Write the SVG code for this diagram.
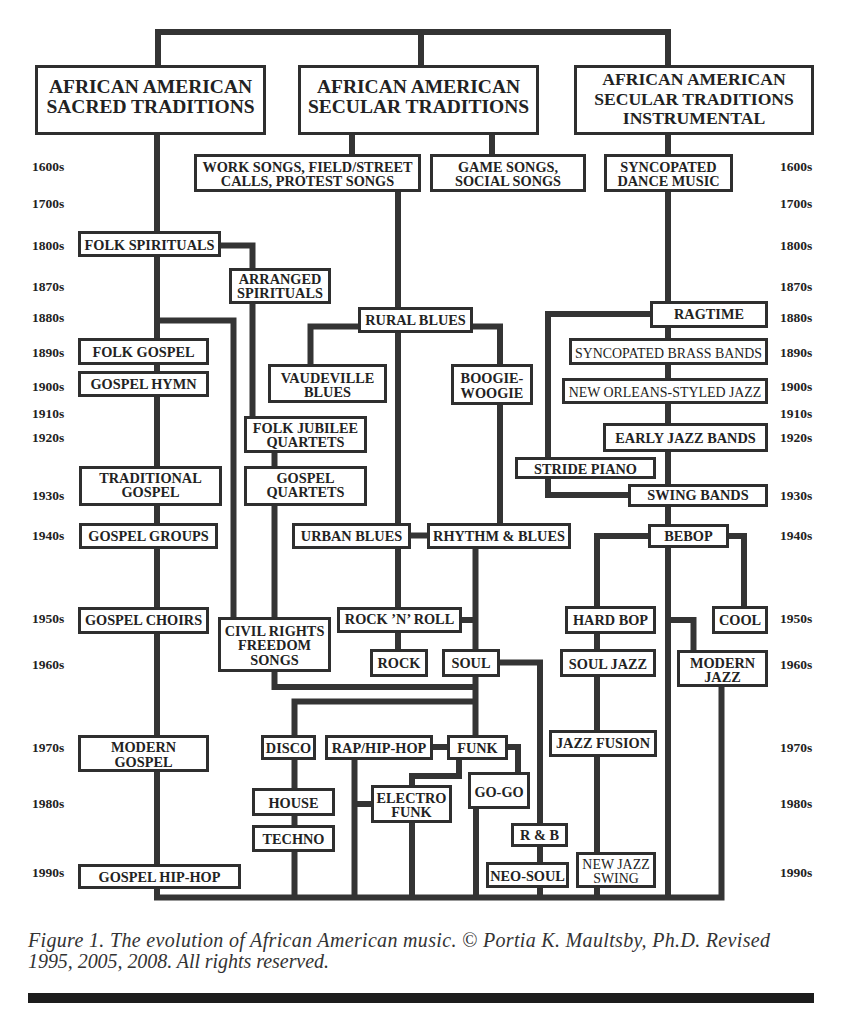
<svg xmlns="http://www.w3.org/2000/svg" width="842" height="1023" viewBox="0 0 842 1023">
<style>
.bg{fill:#ffffff}
.c{fill:none;stroke:#343434;stroke-width:6;stroke-linejoin:miter;stroke-linecap:butt}
.b{fill:#ffffff;stroke:#2f2f2f;stroke-width:3}
.t{font-family:"Liberation Serif","Times New Roman",serif;font-weight:bold;font-size:14.3px;fill:#222;text-anchor:middle}
.tr{font-family:"Liberation Serif","Times New Roman",serif;font-weight:normal;font-size:13.9px;fill:#222;text-anchor:middle}
.h{font-family:"Liberation Serif","Times New Roman",serif;font-weight:bold;font-size:19.5px;fill:#222;text-anchor:middle}
.h3{font-family:"Liberation Serif","Times New Roman",serif;font-weight:bold;font-size:17.6px;fill:#222;text-anchor:middle}
.y{font-family:"Liberation Serif","Times New Roman",serif;font-weight:bold;font-size:13.5px;fill:#222}
.cap{font-family:"Liberation Serif","Times New Roman",serif;font-style:italic;font-size:20px;fill:#333}
</style>
<rect class="bg" x="0" y="0" width="842" height="1023"/>
<g id="connectors">
<path class="c" d="M158 65 V32 H668 V65 M421 32 V65"/>
<path class="c" d="M352 135 V154 M492 135 V154 M668 135 V154"/>
<path class="c" d="M157 135 V897.5 H721.5 V687"/>
<path class="c" d="M221 245.5 H252.5 V268 M252.5 304 V416"/>
<path class="c" d="M157 320.5 H233.5 V617"/>
<path class="c" d="M274.5 453 V466 M274.5 506 V617"/>
<path class="c" d="M274.5 672 V687 H475.5"/>
<path class="c" d="M475.5 701.5 H294.5 V897.5"/>
<path class="c" d="M398 192 V649"/>
<path class="c" d="M358 326.5 H310.5 V364"/>
<path class="c" d="M473 326.5 H500 V364 M500 405 V523"/>
<path class="c" d="M411 535.5 H427"/>
<path class="c" d="M475.5 549 V735"/>
<path class="c" d="M462 620 H475.5"/>
<path class="c" d="M500 662.5 H540 V823 M540 847 V862 M540 888 V897.5"/>
<path class="c" d="M433 747 H447"/>
<path class="c" d="M508 747 H518 V772"/>
<path class="c" d="M459 760 V776 H412 V785"/>
<path class="c" d="M354.5 760 V897.5 M354.5 804 H371"/>
<path class="c" d="M412 823 V897.5"/>
<path class="c" d="M476 809 V897.5"/>
<path class="c" d="M668 192 V897.5"/>
<path class="c" d="M650 314 H548 V457 M548 479 V495 H628"/>
<path class="c" d="M648 536 H597 V606 M597 634 V649 M597 677 V730 M597 757 V852 M597 888 V897.5"/>
<path class="c" d="M729 536 H744 V606"/>
<path class="c" d="M668 620 H693.5 V650"/>
</g>
<g id="years">
<text class="y" x="32" y="170.5">1600s</text>
<text class="y" x="32" y="208">1700s</text>
<text class="y" x="32" y="250">1800s</text>
<text class="y" x="32" y="290.5">1870s</text>
<text class="y" x="32" y="321.5">1880s</text>
<text class="y" x="32" y="356.5">1890s</text>
<text class="y" x="32" y="390.5">1900s</text>
<text class="y" x="32" y="417.5">1910s</text>
<text class="y" x="32" y="441.5">1920s</text>
<text class="y" x="32" y="500">1930s</text>
<text class="y" x="32" y="540">1940s</text>
<text class="y" x="32" y="622.5">1950s</text>
<text class="y" x="32" y="669">1960s</text>
<text class="y" x="32" y="751.5">1970s</text>
<text class="y" x="32" y="807.5">1980s</text>
<text class="y" x="32" y="876.5">1990s</text>
<text class="y" x="780" y="170.5">1600s</text>
<text class="y" x="780" y="208">1700s</text>
<text class="y" x="780" y="250">1800s</text>
<text class="y" x="780" y="290.5">1870s</text>
<text class="y" x="780" y="321.5">1880s</text>
<text class="y" x="780" y="356.5">1890s</text>
<text class="y" x="780" y="390.5">1900s</text>
<text class="y" x="780" y="417.5">1910s</text>
<text class="y" x="780" y="441.5">1920s</text>
<text class="y" x="780" y="500">1930s</text>
<text class="y" x="780" y="540">1940s</text>
<text class="y" x="780" y="622.5">1950s</text>
<text class="y" x="780" y="669">1960s</text>
<text class="y" x="780" y="751.5">1970s</text>
<text class="y" x="780" y="807.5">1980s</text>
<text class="y" x="780" y="876.5">1990s</text>
</g>
<g id="sacred-header"><rect class="b" x="36.5" y="66.5" width="228" height="67"/><text class="h" x="150.5" y="93">AFRICAN AMERICAN</text><text class="h" x="150.5" y="113">SACRED TRADITIONS</text></g>
<g id="secular-header"><rect class="b" x="299.5" y="66.5" width="238" height="67"/><text class="h" x="418.5" y="93">AFRICAN AMERICAN</text><text class="h" x="418.5" y="113">SECULAR TRADITIONS</text></g>
<g id="instrumental-header"><rect class="b" x="575.5" y="66.5" width="237" height="67"/><text class="h3" x="694" y="85">AFRICAN AMERICAN</text><text class="h3" x="694" y="104.5">SECULAR TRADITIONS</text><text class="h3" x="694" y="124">INSTRUMENTAL</text></g>
<g id="work-songs"><rect class="b" x="195.5" y="155.5" width="224" height="35"/><text class="t" x="307.5" y="172">WORK SONGS, FIELD/STREET</text><text class="t" x="307.5" y="186">CALLS, PROTEST SONGS</text></g>
<g id="game-songs"><rect class="b" x="431.5" y="155.5" width="153" height="35"/><text class="t" x="508" y="172">GAME SONGS,</text><text class="t" x="508" y="186">SOCIAL SONGS</text></g>
<g id="syncopated-dance"><rect class="b" x="605.5" y="155.5" width="126" height="35"/><text class="t" x="668.5" y="172">SYNCOPATED</text><text class="t" x="668.5" y="186">DANCE MUSIC</text></g>
<g id="folk-spirituals"><rect class="b" x="79.5" y="232.5" width="140" height="23"/><text class="t" x="149.5" y="250">FOLK SPIRITUALS</text></g>
<g id="arranged-spirituals"><rect class="b" x="230.5" y="269.5" width="99" height="33"/><text class="t" x="280" y="284">ARRANGED</text><text class="t" x="280" y="298">SPIRITUALS</text></g>
<g id="folk-gospel"><rect class="b" x="79.5" y="339.5" width="128" height="24"/><text class="t" x="143.5" y="357">FOLK GOSPEL</text></g>
<g id="gospel-hymn"><rect class="b" x="79.5" y="372.5" width="128" height="23"/><text class="t" x="143.5" y="389">GOSPEL HYMN</text></g>
<g id="traditional-gospel"><rect class="b" x="80.5" y="467.5" width="140" height="37"/><text class="t" x="150.5" y="483">TRADITIONAL</text><text class="t" x="150.5" y="497">GOSPEL</text></g>
<g id="folk-jubilee-quartets"><rect class="b" x="245.5" y="417.5" width="120" height="34"/><text class="t" x="305.5" y="433">FOLK JUBILEE</text><text class="t" x="305.5" y="447">QUARTETS</text></g>
<g id="gospel-quartets"><rect class="b" x="245.5" y="467.5" width="120" height="37"/><text class="t" x="305.5" y="483">GOSPEL</text><text class="t" x="305.5" y="497">QUARTETS</text></g>
<g id="gospel-groups"><rect class="b" x="80.5" y="524.5" width="136" height="23"/><text class="t" x="148.5" y="541">GOSPEL GROUPS</text></g>
<g id="gospel-choirs"><rect class="b" x="79.5" y="608.5" width="128" height="24"/><text class="t" x="143.5" y="625">GOSPEL CHOIRS</text></g>
<g id="civil-rights"><rect class="b" x="219.5" y="618.5" width="110" height="52"/><text class="t" x="274.5" y="636">CIVIL RIGHTS</text><text class="t" x="274.5" y="650">FREEDOM</text><text class="t" x="274.5" y="665">SONGS</text></g>
<g id="modern-gospel"><rect class="b" x="79.5" y="736.5" width="128" height="34"/><text class="t" x="143.5" y="752">MODERN</text><text class="t" x="143.5" y="766.5">GOSPEL</text></g>
<g id="gospel-hip-hop"><rect class="b" x="79.5" y="865.5" width="160" height="22"/><text class="t" x="159.5" y="881.5">GOSPEL HIP-HOP</text></g>
<g id="rural-blues"><rect class="b" x="359.5" y="308.5" width="112" height="23"/><text class="t" x="415.5" y="325">RURAL BLUES</text></g>
<g id="vaudeville-blues"><rect class="b" x="269.5" y="365.5" width="116" height="36"/><text class="t" x="327.5" y="383">VAUDEVILLE</text><text class="t" x="327.5" y="397">BLUES</text></g>
<g id="boogie-woogie"><rect class="b" x="452.5" y="365.5" width="79" height="38"/><text class="t" x="492" y="383">BOOGIE-</text><text class="t" x="492" y="397.5">WOOGIE</text></g>
<g id="urban-blues"><rect class="b" x="293.5" y="524.5" width="116" height="23"/><text class="t" x="351.5" y="541">URBAN BLUES</text></g>
<g id="rhythm-blues"><rect class="b" x="428.5" y="524.5" width="141" height="23"/><text class="t" x="499" y="541">RHYTHM &amp; BLUES</text></g>
<g id="rock-n-roll"><rect class="b" x="338.5" y="608.5" width="122" height="23"/><text class="t" x="399.5" y="624">ROCK ’N’ ROLL</text></g>
<g id="rock"><rect class="b" x="371.5" y="650.5" width="55" height="25"/><text class="t" x="399" y="668">ROCK</text></g>
<g id="soul"><rect class="b" x="443.5" y="650.5" width="55" height="25"/><text class="t" x="471" y="668">SOUL</text></g>
<g id="disco"><rect class="b" x="262.5" y="736.5" width="52" height="22"/><text class="t" x="288.5" y="753">DISCO</text></g>
<g id="rap-hip-hop"><rect class="b" x="326.5" y="736.5" width="105" height="22"/><text class="t" x="379" y="753">RAP/HIP-HOP</text></g>
<g id="funk"><rect class="b" x="448.5" y="736.5" width="58" height="22"/><text class="t" x="477.5" y="753">FUNK</text></g>
<g id="go-go"><rect class="b" x="469.5" y="773.5" width="59" height="34"/><text class="t" x="499" y="796.5">GO-GO</text></g>
<g id="electro-funk"><rect class="b" x="372.5" y="786.5" width="78" height="35"/><text class="t" x="411.5" y="802.5">ELECTRO</text><text class="t" x="411.5" y="817">FUNK</text></g>
<g id="house"><rect class="b" x="253.5" y="789.5" width="80" height="25"/><text class="t" x="293.5" y="807.5">HOUSE</text></g>
<g id="techno"><rect class="b" x="253.5" y="826.5" width="80" height="24"/><text class="t" x="293.5" y="844">TECHNO</text></g>
<g id="r-and-b"><rect class="b" x="512.5" y="824.5" width="54" height="21"/><text class="t" x="539.5" y="840">R &amp; B</text></g>
<g id="neo-soul"><rect class="b" x="487.5" y="863.5" width="80" height="23"/><text class="t" x="527.5" y="880.5">NEO-SOUL</text></g>
<g id="ragtime"><rect class="b" x="651.5" y="302.5" width="115" height="24"/><text class="t" x="709" y="319.3">RAGTIME</text></g>
<g id="syncopated-brass-bands"><rect class="b" x="570.5" y="339.5" width="196" height="24"/><text class="tr" x="668.5" y="357.5">SYNCOPATED BRASS BANDS</text></g>
<g id="new-orleans-jazz"><rect class="b" x="563.5" y="379.5" width="203" height="23"/><text class="tr" x="665" y="396.5">NEW ORLEANS-STYLED JAZZ</text></g>
<g id="early-jazz-bands"><rect class="b" x="604.5" y="424.5" width="162" height="26"/><text class="t" x="685.5" y="443.3">EARLY JAZZ BANDS</text></g>
<g id="stride-piano"><rect class="b" x="516.5" y="458.5" width="138" height="19"/><text class="t" x="585.5" y="474.3">STRIDE PIANO</text></g>
<g id="swing-bands"><rect class="b" x="629.5" y="485.5" width="137" height="20"/><text class="t" x="698" y="500">SWING BANDS</text></g>
<g id="bebop"><rect class="b" x="649.5" y="525.5" width="78" height="21"/><text class="t" x="688.5" y="541">BEBOP</text></g>
<g id="hard-bop"><rect class="b" x="566.5" y="607.5" width="88" height="25"/><text class="t" x="610.5" y="625">HARD BOP</text></g>
<g id="cool"><rect class="b" x="713.5" y="607.5" width="53" height="25"/><text class="t" x="740" y="625">COOL</text></g>
<g id="soul-jazz"><rect class="b" x="561.5" y="650.5" width="93" height="25"/><text class="t" x="608" y="669">SOUL JAZZ</text></g>
<g id="modern-jazz"><rect class="b" x="678.5" y="651.5" width="88" height="34"/><text class="t" x="722.5" y="667.7">MODERN</text><text class="t" x="722.5" y="682">JAZZ</text></g>
<g id="jazz-fusion"><rect class="b" x="550.5" y="731.5" width="105" height="24"/><text class="t" x="603" y="748.3">JAZZ FUSION</text></g>
<g id="new-jazz-swing"><rect class="b" x="577.5" y="853.5" width="77" height="33"/><text class="tr" x="616" y="869">NEW JAZZ</text><text class="tr" x="616" y="883">SWING</text></g>
<g id="caption">
<text class="cap" x="28" y="947" textLength="742" lengthAdjust="spacing">Figure 1. The evolution of African American music. © Portia K. Maultsby, Ph.D. Revised</text>
<text class="cap" x="28" y="968" textLength="301" lengthAdjust="spacing">1995, 2005, 2008. All rights reserved.</text>
<rect x="28" y="993" width="786" height="10" fill="#1c1c1c"/>
</g>
</svg>
